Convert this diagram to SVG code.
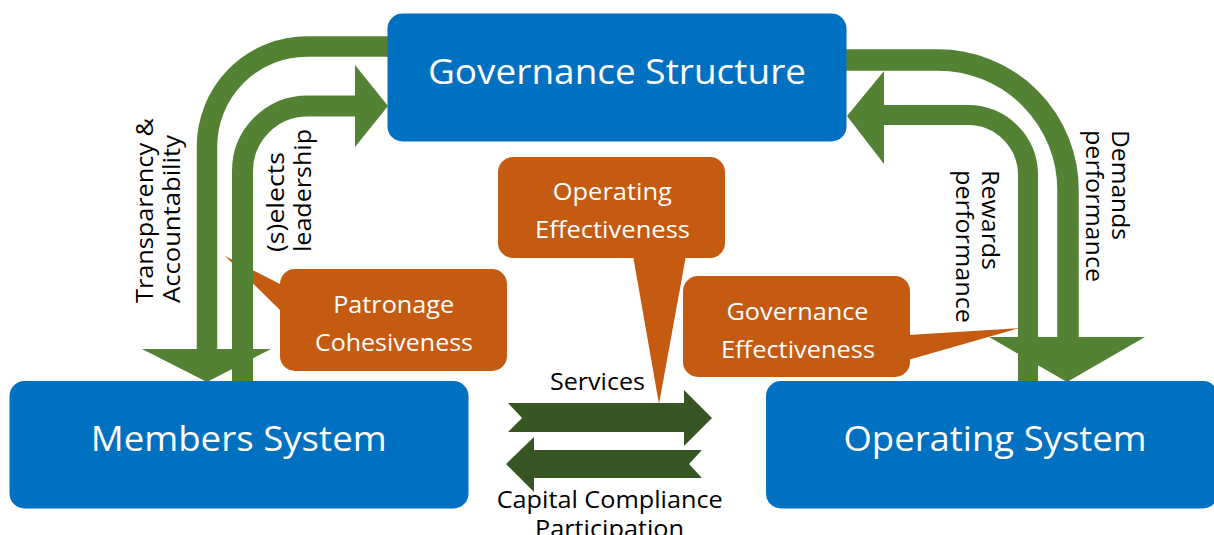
<svg xmlns="http://www.w3.org/2000/svg" width="1214" height="535" viewBox="0 0 1214 535">
  <defs>
    <style>
      .box { fill: #0070C0; }
      .callout { fill: #C55A11; }
      .band { fill: none; stroke: #548235; }
      .head { fill: #548235; }
      .flow { fill: #375623; }
      .title { font-family: "Open Sans", "Noto Sans", sans-serif; font-size: 35px; fill: #FFFFFF; text-anchor: middle; }
      .note { font-family: "Open Sans", "Noto Sans", sans-serif; font-size: 24px; fill: #FFFFFF; text-anchor: middle; }
      .label { font-family: "Open Sans", "Noto Sans", sans-serif; font-size: 24px; fill: #000000; }
      .mid { text-anchor: middle; }
    </style>
  </defs>

  <rect width="1214" height="535" fill="#FFFFFF"/>

  <!-- callouts (sit underneath the feedback loops) -->
  <g id="callout-operating-effectiveness">
    <polygon class="callout" points="632,250 687,250 659,404"/>
    <rect class="callout" x="498" y="157" width="227" height="101" rx="15"/>
    <text class="note" x="612.3" y="200" textLength="119" lengthAdjust="spacingAndGlyphs">Operating</text>
    <text class="note" x="612.5" y="238" textLength="155" lengthAdjust="spacingAndGlyphs">Effectiveness</text>
  </g>
  <g id="callout-patronage-cohesiveness">
    <polygon class="callout" points="225,256 282,285 282,312"/>
    <rect class="callout" x="280" y="269" width="227" height="102" rx="15"/>
    <text class="note" x="393.7" y="312.5" textLength="121" lengthAdjust="spacingAndGlyphs">Patronage</text>
    <text class="note" x="394" y="350.7" textLength="158" lengthAdjust="spacingAndGlyphs">Cohesiveness</text>
  </g>
  <g id="callout-governance-effectiveness">
    <polygon class="callout" points="908,335 1020,328 908,360"/>
    <rect class="callout" x="683" y="276" width="227" height="101" rx="15"/>
    <text class="note" x="797.5" y="320" textLength="142" lengthAdjust="spacingAndGlyphs">Governance</text>
    <text class="note" x="798" y="358.3" textLength="154" lengthAdjust="spacingAndGlyphs">Effectiveness</text>
  </g>

  <!-- connectors -->
  <g id="connectors">
    <!-- Transparency & Accountability: governance -> members -->
    <path class="band" stroke-width="20.5" d="M 395 46.5 H 307 A 100 100 0 0 0 207 146.5 V 350"/>
    <polygon class="head" points="142,349 271,349 207,382"/>
    <!-- (s)elects leadership: members -> governance -->
    <path class="band" stroke-width="21" d="M 242.5 385 V 171 A 65 65 0 0 1 307.5 106 H 356"/>
    <polygon class="head" points="355,65 388,106 355,147"/>
    <!-- Demands performance: governance -> operating -->
    <path class="band" stroke-width="21.5" d="M 840 60 H 938 A 130 130 0 0 1 1068 190 V 338"/>
    <polygon class="head" points="989,337 1145,337 1067,382"/>
    <!-- Rewards performance: operating -> governance -->
    <path class="band" stroke-width="20" d="M 1028 385 V 175 A 60 60 0 0 0 968 115 H 883"/>
    <polygon class="head" points="884,71 847,116 884,164"/>
    <!-- Services: members -> operating -->
    <polygon class="flow" points="508,403 684,403 684,390 712,418 684,446 684,432 508,432 522,418"/>
    <!-- Capital / Compliance / Participation: operating -> members -->
    <polygon class="flow" points="506,464 534,437 534,450 702,450 689,464 702,478 534,478 534,492"/>

    <text class="label" transform="translate(153,303) rotate(-90)" textLength="185" lengthAdjust="spacingAndGlyphs">Transparency &amp;</text>
    <text class="label" transform="translate(180,303) rotate(-90)" textLength="168" lengthAdjust="spacingAndGlyphs">Accountability</text>
    <text class="label" transform="translate(284,252) rotate(-90)" textLength="100" lengthAdjust="spacingAndGlyphs">(s)elects</text>
    <text class="label" transform="translate(310.5,252) rotate(-90)" textLength="123" lengthAdjust="spacingAndGlyphs">leadership</text>
    <text class="label" transform="translate(982,170) rotate(90)" textLength="100" lengthAdjust="spacingAndGlyphs">Rewards</text>
    <text class="label" transform="translate(956,170) rotate(90)" textLength="153" lengthAdjust="spacingAndGlyphs">performance</text>
    <text class="label" transform="translate(1112,130) rotate(90)" textLength="110" lengthAdjust="spacingAndGlyphs">Demands</text>
    <text class="label" transform="translate(1086,130) rotate(90)" textLength="152" lengthAdjust="spacingAndGlyphs">performance</text>
    <text class="label mid" x="597.5" y="389.5" textLength="95" lengthAdjust="spacingAndGlyphs">Services</text>
    <text class="label mid" x="609.7" y="508.3" textLength="226" lengthAdjust="spacingAndGlyphs">Capital Compliance</text>
    <text class="label mid" x="609.5" y="537" textLength="149" lengthAdjust="spacingAndGlyphs">Participation</text>
  </g>

  <!-- systems -->
  <g id="governance-structure">
    <rect class="box" x="387.5" y="13.5" width="459" height="128" rx="15"/>
    <text class="title" x="617" y="84" textLength="378" lengthAdjust="spacingAndGlyphs">Governance Structure</text>
  </g>
  <g id="members-system">
    <rect class="box" x="9.5" y="381" width="459" height="127.5" rx="15"/>
    <text class="title" x="238.7" y="451" textLength="296" lengthAdjust="spacingAndGlyphs">Members System</text>
  </g>
  <g id="operating-system">
    <rect class="box" x="766" y="381" width="452" height="127.5" rx="15"/>
    <text class="title" x="995" y="451" textLength="303" lengthAdjust="spacingAndGlyphs">Operating System</text>
  </g>
</svg>
